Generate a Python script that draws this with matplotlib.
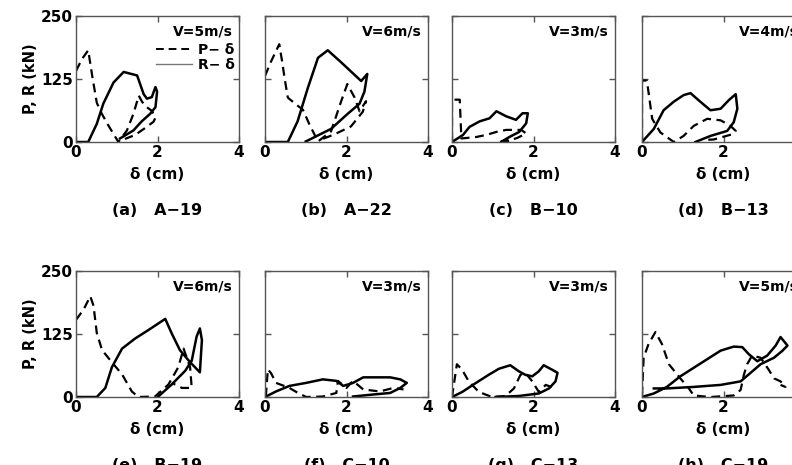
import numpy as np
import matplotlib.pyplot as plt
from matplotlib.lines import Line2D

plt.rcParams['font.family'] = ['DejaVu Sans']
plt.rcParams['font.weight'] = 'bold'

# panel captions and impact speeds
captions = ["(a)   A−19", "(b)   A−22", "(c)   B−10", "(d)   B−13",
            "(e)   B−19", "(f)   C−10", "(g)   C−13", "(h)   C−19"]
speeds = ["V=5m/s", "V=6m/s", "V=3m/s", "V=4m/s",
          "V=6m/s", "V=3m/s", "V=3m/s", "V=5m/s"]

# P-delta (dashed) curves, delta in cm, load in kN
p_x = [
    [0, 0.15, 0.30, 0.40, 0.51, 0.62, 0.80, 1.04, 1.25, 1.41, 1.54, 1.62, 1.72, 1.86, 1.95, 1.90, 1.70, 1.45, 1.20],
    [0, 0.15, 0.35, 0.42, 0.48, 0.56, 0.77, 0.93, 1.09, 1.30, 1.62, 1.87, 2.02, 2.20, 2.32, 2.48, 2.40, 2.11, 1.70, 1.38],
    [0, 0, 0.19, 0.23, 0.60, 0.84, 1.09, 1.33, 1.70, 1.82, 1.60, 1.29, 1.45],
    [0, 0, 0.12, 0.25, 0.45, 0.78, 1.02, 1.27, 1.60, 1.93, 2.17, 2.30, 2.20, 1.76, 1.50],
    [0, 0.19, 0.35, 0.43, 0.51, 0.64, 0.88, 1.13, 1.37, 1.53, 1.94, 2.27, 2.51, 2.64, 2.80, 2.84, 2.60, 2.35],
    [0.02, 0.07, 0.15, 0.27, 0.60, 0.81, 1.01, 1.42, 1.75, 1.79, 2.00, 2.16, 2.41, 2.82, 3.15, 3.40],
    [0, 0.12, 0.25, 0.41, 0.66, 0.98, 1.31, 1.52, 1.68, 1.80, 1.97, 2.13, 2.30, 2.54],
    [0, 0.04, 0.16, 0.33, 0.49, 0.66, 0.94, 1.15, 1.27, 1.68, 2.25, 2.42, 2.50, 2.58, 2.70, 2.91, 3.11, 3.24, 3.40, 3.52, 3.40],
]
p_y = [
    [141, 165, 182, 130, 78, 58, 32, 0, 23, 56, 92, 80, 70, 62, 48, 40, 28, 14, 6],
    [131, 160, 194, 160, 127, 88, 74, 64, 35, 1, 21, 81, 115, 88, 61, 81, 60, 31, 15, 5],
    [3, 84, 84, 7, 10, 14, 20, 24, 24, 17, 8, 0, 4],
    [0, 122, 122, 46, 19, 0, 12, 32, 46, 43, 32, 22, 15, 5, 4],
    [153, 174, 200, 181, 127, 93, 69, 45, 11, 0, 1, 25, 59, 96, 59, 18, 18, 28],
    [1, 55, 47, 28, 18, 8, 0, 1, 8, 32, 18, 32, 15, 11, 18, 15],
    [0, 65, 54, 31, 10, 0, 2, 17, 44, 48, 31, 10, 24, 17],
    [3, 78, 105, 129, 105, 65, 37, 17, 3, 0, 3, 14, 44, 65, 82, 78, 54, 37, 31, 20, 24],
]

# R-delta (solid) curves
r_x = [
    [0, 0.30, 0.51, 0.67, 0.92, 1.17, 1.50, 1.66, 1.74, 1.86, 1.95, 1.99, 1.95, 1.82, 1.60, 1.41, 1.08],
    [0, 0.56, 0.80, 1.05, 1.30, 1.54, 1.87, 2.36, 2.51, 2.44, 2.32, 2.03, 1.62, 1.00],
    [0, 0.27, 0.43, 0.68, 0.92, 1.09, 1.33, 1.57, 1.73, 1.86, 1.82, 1.65, 1.41, 1.20, 1.35],
    [0, 0.29, 0.53, 0.78, 1.02, 1.19, 1.43, 1.68, 1.93, 2.13, 2.30, 2.34, 2.25, 2.09, 1.68, 1.31],
    [0, 0.51, 0.72, 0.88, 1.13, 1.45, 1.78, 2.19, 2.35, 2.55, 2.80, 3.04, 3.09, 3.04, 2.96, 2.84, 2.68, 2.35, 2.02],
    [0, 0.27, 0.60, 1.01, 1.42, 1.75, 1.92, 2.16, 2.41, 2.66, 3.07, 3.32, 3.48, 3.32, 3.07, 2.66, 2.16],
    [0, 0.25, 0.57, 0.90, 1.15, 1.43, 1.64, 1.80, 1.97, 2.13, 2.25, 2.46, 2.59, 2.54, 2.38, 2.13, 1.64, 1.07],
    [0, 0.29, 0.61, 0.94, 1.27, 1.60, 1.93, 2.25, 2.46, 2.62, 2.83, 3.07, 3.28, 3.40, 3.57, 3.45, 3.24, 2.91, 2.42, 1.93, 1.27, 0.61, 0.29],
]
r_y = [
    [0, 0, 36, 76, 118, 139, 132, 95, 86, 89, 109, 100, 69, 56, 40, 23, 7],
    [0, 0, 41, 107, 167, 182, 158, 121, 135, 100, 76, 56, 26, 1],
    [0, 14, 30, 41, 47, 61, 51, 44, 57, 57, 37, 20, 10, 0, 4],
    [0, 26, 63, 80, 93, 97, 80, 63, 66, 83, 95, 66, 39, 22, 12, 0],
    [0, 0, 18, 59, 96, 116, 133, 155, 126, 93, 69, 49, 113, 136, 120, 72, 52, 25, 1],
    [0, 11, 22, 28, 35, 32, 22, 28, 39, 39, 39, 35, 28, 18, 8, 5, 1],
    [0, 10, 27, 44, 56, 63, 51, 44, 41, 51, 63, 54, 48, 31, 17, 7, 2, 0],
    [0, 7, 20, 41, 58, 75, 92, 100, 99, 85, 71, 82, 102, 119, 102, 92, 78, 65, 31, 24, 20, 17, 17],
]

W, H = 792, 465
fig = plt.figure(figsize=(W / 100, H / 100), dpi=100)

lefts = [76, 265, 452, 642]
bottoms = [142, 397]
aw, ah = 163, 126
spine_col = '#555555'

for i in range(8):
    row, col = divmod(i, 4)
    l, b = lefts[col], bottoms[row]
    ax = fig.add_axes([l / W, 1 - b / H, aw / W, ah / H])
    ax.plot(p_x[i], p_y[i], color='black', lw=1.6, ls=(0, (4, 2.5)))
    ax.plot(r_x[i], r_y[i], color='black', lw=1.8)
    ax.set_xlim(0, 4)
    ax.set_ylim(0, 250)
    ax.set_xticks([0, 2, 4])
    ax.set_yticks([0, 125, 250])
    ax.tick_params(direction='in', top=True, right=True, length=4, width=1,
                   color=spine_col, labelsize=11, pad=2)
    for s in ax.spines.values():
        s.set_color(spine_col)
        s.set_linewidth(1)
    if col != 0:
        ax.set_yticklabels([])
    else:
        ax.set_ylabel("P, R (kN)", fontsize=10.5, fontweight='bold', labelpad=2)
    ax.set_xlabel("δ (cm)", fontsize=11, fontweight='bold', labelpad=5)
    ax.text(0.96, 0.93, speeds[i], transform=ax.transAxes, ha='right', va='top',
            fontsize=10, fontweight='bold')
    ax.text(0.5, -0.54, captions[i], transform=ax.transAxes, ha='center', va='center',
            fontsize=11.5, fontweight='bold')
    if i == 0:
        handles = [Line2D([], [], color='black', lw=1.4, ls=(0, (4, 2.5))),
                   Line2D([], [], color='#777777', lw=1.0)]
        ax.legend(handles, ["P− δ", "R− δ"], loc='upper right',
                  bbox_to_anchor=(1.0, 0.82), frameon=False,
                  handlelength=2.6, handletextpad=0.4, labelspacing=0.1,
                  borderpad=0.1, borderaxespad=0.2,
                  prop={'weight': 'bold', 'size': 10})

fig.savefig("out.png", dpi=100)
